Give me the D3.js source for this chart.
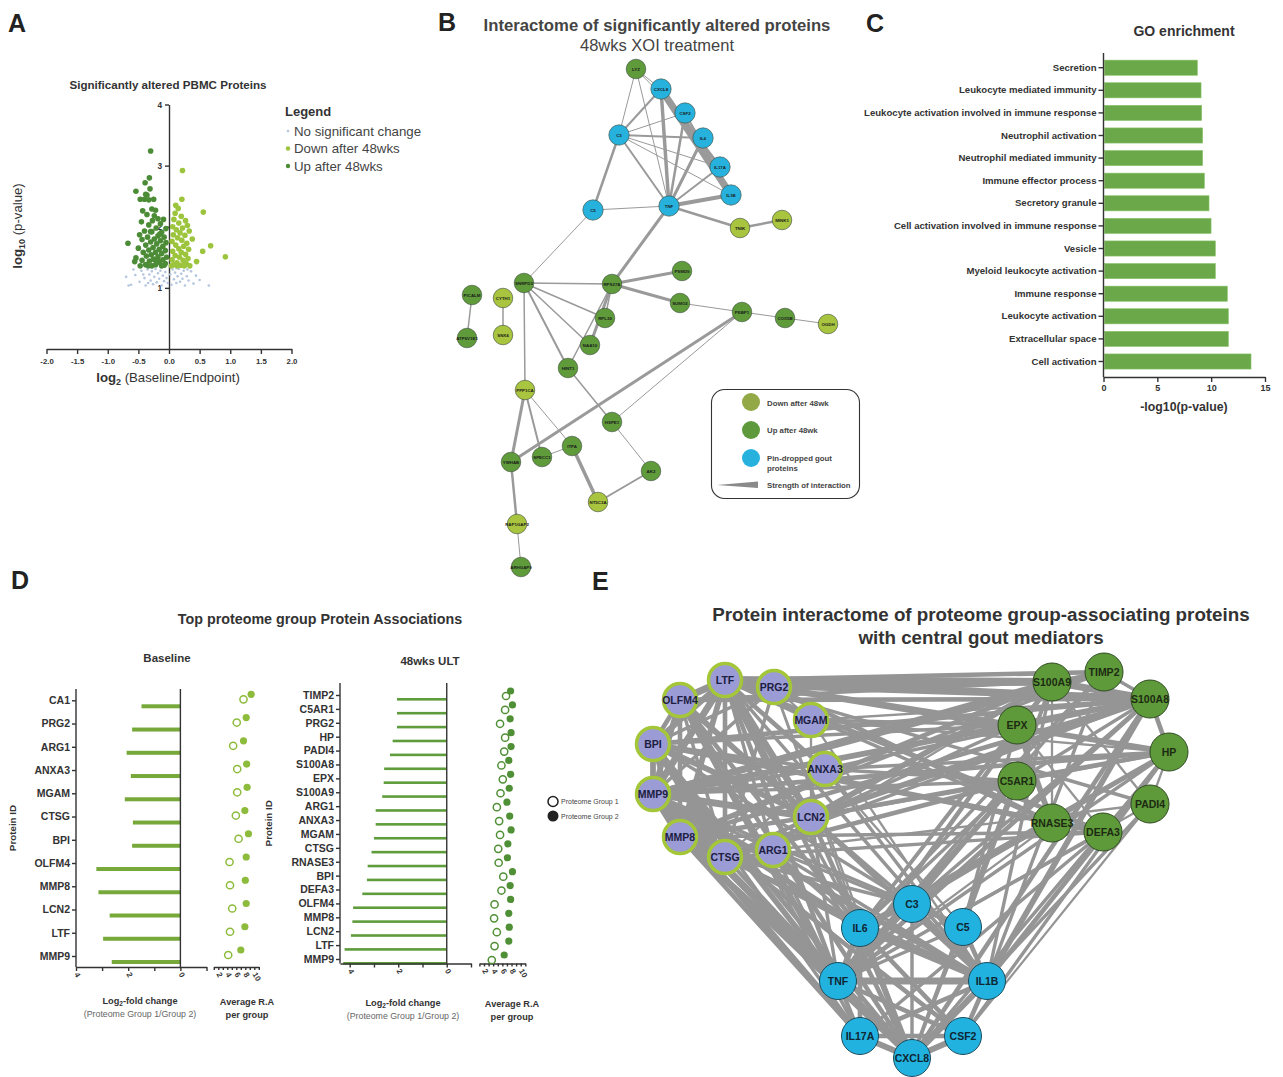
<!DOCTYPE html>
<html>
<head>
<meta charset="utf-8">
<script src="https://cdn.jsdelivr.net/npm/d3@7"></script>
<style>
  body { margin: 0; background: #fff; }
  svg { display: block; font-family: "Liberation Sans", Arial, sans-serif; }
  .ax path, .ax line { stroke: #333; stroke-width: 1.4; }
  .ax text { fill: #333; font-weight: bold; }
</style>
</head>
<body>
<svg id="fig" width="1283" height="1077"></svg>
<script>
// ---------- data: panel A (volcano) ----------
const upPts = [[-0.30,3.24],[-0.32,2.80],[-0.39,2.72],[-0.31,2.62],[-0.54,2.58],[-0.38,2.53],[-0.47,2.45],[-0.40,2.45],[-0.33,2.44],[-0.25,2.45],
  [-0.43,2.26],[-0.28,2.29],[-0.22,2.27],[-0.36,2.20],[-0.18,2.13],[-0.09,2.12],[-0.27,2.10],[-0.45,2.08],[-0.14,2.05],[-0.33,2.03],
  [-0.21,1.98],[-0.05,1.97],[-0.40,1.93],[-0.28,1.92],[-0.12,1.91],[-0.48,1.87],[-0.18,1.85],[-0.35,1.83],[-0.08,1.83],[-0.24,1.80],
  [-0.44,1.79],[-0.14,1.77],[-0.30,1.75],[-0.67,1.73],[-0.05,1.74],[-0.20,1.72],[-0.38,1.70],[-0.10,1.68],[-0.26,1.66],[-0.50,1.65],
  [-0.16,1.63],[-0.33,1.62],[-0.06,1.61],[-0.42,1.58],[-0.22,1.58],[-0.12,1.56],[-0.29,1.54],[-0.37,1.52],[-0.18,1.51],[-0.04,1.50],
  [-0.54,1.49],[-0.25,1.47],[-0.10,1.46],[-0.44,1.45],[-0.32,1.44],[-0.56,1.43],[-0.16,1.42],[-0.06,1.40],[-0.38,1.38],[-0.22,1.38],
  [-0.28,1.36],[-0.12,1.36],[-0.47,1.36],[-0.34,1.36],[-0.08,1.37],[-0.19,1.45],[-0.30,1.92],[-0.24,2.18],[-0.15,1.88],[-0.36,2.52]];
const downPts = [[0.22,2.92],[0.21,2.45],[0.11,2.35],[0.15,2.30],[0.56,2.24],[0.10,2.22],[0.20,2.17],[0.08,2.12],[0.27,2.10],[0.16,2.06],
  [0.30,2.02],[0.06,2.00],[0.22,1.98],[0.12,1.95],[0.33,1.93],[0.18,1.90],[0.07,1.87],[0.26,1.86],[0.14,1.82],[0.38,1.80],
  [0.21,1.78],[0.05,1.76],[0.29,1.73],[0.68,1.69],[0.11,1.70],[0.24,1.68],[0.16,1.64],[0.32,1.63],[0.06,1.60],[0.55,1.60],
  [0.20,1.58],[0.27,1.55],[0.10,1.53],[0.92,1.51],[0.17,1.50],[0.31,1.48],[0.05,1.46],[0.23,1.45],[0.45,1.43],[0.13,1.41],
  [0.28,1.40],[0.08,1.38],[0.19,1.37],[0.34,1.36],[0.04,1.36],[0.25,1.36],[0.14,1.36]];
const nsPts = [[-0.70,1.18],[-0.62,1.05],[-0.55,1.21],[-0.48,1.10],[-0.45,1.28],[-0.40,1.16],[-0.38,1.04],[-0.35,1.30],[-0.32,1.22],[-0.30,1.12],
  [-0.28,1.27],[-0.26,1.06],[-0.24,1.18],[-0.22,1.31],[-0.20,1.09],[-0.18,1.24],[-0.16,1.15],[-0.14,1.28],[-0.12,1.04],[-0.10,1.20],
  [-0.08,1.11],[-0.06,1.26],[-0.04,1.16],[-0.02,1.08],[0.02,1.22],[0.04,1.05],[0.06,1.30],[0.08,1.14],[0.10,1.25],[0.12,1.08],
  [0.14,1.19],[0.16,1.31],[0.18,1.10],[0.20,1.23],[0.22,1.15],[0.24,1.28],[0.26,1.04],[0.29,1.19],[0.32,1.12],[0.36,1.27],
  [0.40,1.07],[0.44,1.20],[0.50,1.13],[0.65,1.04],[-0.58,1.30],[-0.42,1.22],[0.30,1.30],[-0.34,1.08],[0.12,1.32],[-0.66,1.04]];
const volcanoXTicks = [-2,-1.5,-1,-0.5,0,0.5,1,1.5,2];
const volcanoYTicks = [1,2,3,4];

// ---------- data: panel B (network, layout units) ----------
const bNames = ['LYZ','CXCL8','CSF2','C3','IL6','IL17A','IL1B','TNF','C5','TNIK','MINK1','PSMD9','RPS27A','SNRPD3','PICALM','CYTH1','SUMO2',
  'PEBP1','COX5B','OGDH','RPL30','ATP6V1E1','SNX4','NAA10','HINT1','PPP1CA','HSPE1','ITPA','SPECC1','YWHAB','AK2','NT5C3A','RAP1GAP2','ARHGAP9'];
const bGroup = ['up','pin','pin','pin','pin','pin','pin','pin','pin','down','down','up','up','up','up','down','up',
  'up','up','down','up','up','down','up','up','down','up','up','up','up','up','down','down','up'];
const bX = [196,221,245,179,263,280,291,229,153,300,342,242,172,84,32,63,240,302,345,388,165,27,63,150,128,85,172,132,102,71,211,158,77,81];
const bY = [69,89,113,135,138,167,195,206,210,228,220,271,284,283,295,298,303,312,318,324,318,338,335,345,368,390,422,446,457,462,471,502,524,567];
const bEdges = ['LYZ CXCL8 1','LYZ C3 1','LYZ TNF 1','LYZ IL6 1','CXCL8 IL1B 7','CXCL8 IL17A 3','CXCL8 C3 2','CXCL8 TNF 3.5','CSF2 TNF 2.5',
  'C3 CSF2 1','C3 IL6 2','C3 IL17A 1','C3 IL1B 1','C3 TNF 2','C3 C5 2.5','IL6 TNF 3','IL17A TNF 2','IL1B TNF 4','CSF2 IL1B 2','C5 TNF 1',
  'TNF TNIK 2.5','TNIK MINK1 2.5','TNF RPS27A 3','C5 SNRPD3 1','RPS27A PSMD9 3','RPS27A SNRPD3 1.5','RPS27A SUMO2 3','RPS27A RPL30 1.5',
  'RPS27A NAA10 3','RPS27A HINT1 1.5','SUMO2 PEBP1 1','PEBP1 COX5B 1','COX5B OGDH 1','SNRPD3 RPL30 1.5','SNRPD3 NAA10 1.5','SNRPD3 HINT1 2',
  'SNRPD3 PPP1CA 1.5','PICALM ATP6V1E1 1.5','CYTH1 SNX4 1.5','PEBP1 YWHAB 3','PEBP1 HSPE1 1','HINT1 HSPE1 1.5','HSPE1 AK2 1','AK2 NT5C3A 2',
  'ITPA NT5C3A 3.5','PPP1CA YWHAB 3','PPP1CA SPECC1 2','PPP1CA ITPA 1','SPECC1 ITPA 1','YWHAB RAP1GAP2 2.5','RAP1GAP2 ARHGAP9 1'];
const bLegend = ['Down after 48wk','Up after 48wk','Pin-dropped gout|proteins','Strength of interaction'];

// ---------- data: panel C (GO enrichment) ----------
const goTerms = ['Secretion','Leukocyte mediated immunity','Leukocyte activation involved in immune response','Neutrophil activation',
  'Neutrophil mediated immunity','Immune effector process','Secretory granule','Cell activation involved in immune response','Vesicle',
  'Myeloid leukocyte activation','Immune response','Leukocyte activation','Extracellular space','Cell activation'];
const goValues = [8.72,9.06,9.12,9.21,9.21,9.37,9.80,9.99,10.39,10.39,11.5,11.6,11.6,13.7];
const goTicks = [0,5,10,15];

// ---------- data: panel D (lollipops) ----------
const baseProteins = ['CA1','PRG2','ARG1','ANXA3','MGAM','CTSG','BPI','OLFM4','MMP8','LCN2','LTF','MMP9'];
const baseFC = [1.49,1.85,2.06,1.90,2.13,1.82,1.85,3.22,3.14,2.71,2.96,2.63];
const baseG1 = [7.6,6.1,5.3,6.2,6.2,5.9,6.5,4.5,4.6,5.1,4.6,4.2];
const baseG2 = [9.3,8.2,7.6,8.3,8.4,7.9,8.7,8.2,8.0,8.2,7.9,7.0];
const ultProteins = ['TIMP2','C5AR1','PRG2','HP','PADI4','S100A8','EPX','S100A9','ARG1','ANXA3','MGAM','CTSG','RNASE3','BPI','DEFA3',
  'OLFM4','MMP8','LCN2','LTF','MMP9'];
const ultFC = [2.05,2.05,2.05,2.23,2.34,2.58,2.60,2.66,2.93,2.93,3.0,3.10,3.26,3.29,3.48,3.86,3.89,3.95,4.21,4.27];
const ultG1 = [6.8,6.6,5.5,6.6,6.4,5.8,6.1,5.6,4.8,5.3,5.5,5.1,5.2,6.2,5.8,4.3,4.2,4.8,4.3,3.7];
const ultG2 = [7.8,8.2,7.7,7.9,7.9,7.4,7.8,7.5,7.0,7.6,7.9,7.2,7.1,8.2,7.7,7.8,7.4,7.5,7.4,6.4];
const fcTicks = [4,3,2,1,0,-1];
const raTicks = [1,2,3,4,5,6,7,8,9,10,11];

// ---------- data: panel E (network, layout units) ----------
const eNames = ['LTF','PRG2','OLFM4','MGAM','BPI','ANXA3','MMP9','LCN2','MMP8','ARG1','CTSG',
  'S100A9','TIMP2','S100A8','EPX','HP','C5AR1','PADI4','RNASE3','DEFA3',
  'C3','IL6','C5','TNF','IL1B','IL17A','CSF2','CXCL8'];
const eGroup = ['p','p','p','p','p','p','p','p','p','p','p','g','g','g','g','g','g','g','g','g','b','b','b','b','b','b','b','b'];
const eX = [185,234,140,271,113,285,113,271,140,233,185,512,564,610,477,629,477,610,512,563,372,320,423,298,447,320,423,372];
const eY = [80,87,100,120,144,169,194,217,237,250,257,82,72,99,125,152,181,204,223,232,304,328,327,381,381,436,436,458];
const eEdges = [
  'LTF OLFM4 6','LTF PRG2 4','LTF BPI 5','LTF MMP9 6','LTF MMP8 5','LTF LCN2 6','LTF CTSG 4','LTF MGAM 3','LTF ANXA3 4','LTF ARG1 3',
  'OLFM4 BPI 4','OLFM4 MMP9 5','OLFM4 MMP8 4','OLFM4 LCN2 5','OLFM4 CTSG 3','BPI MMP9 5','BPI MMP8 4','BPI LCN2 5','BPI CTSG 5','BPI ANXA3 3',
  'MMP9 MMP8 6','MMP9 LCN2 6','MMP9 CTSG 4','MMP9 ARG1 3','MMP9 ANXA3 3','MMP8 LCN2 4','MMP8 CTSG 4','MMP8 ARG1 3','LCN2 CTSG 3','LCN2 ARG1 3',
  'PRG2 MGAM 2','PRG2 BPI 3','PRG2 CTSG 3','PRG2 MMP9 3','ANXA3 CTSG 2','MGAM LCN2 2',
  'LTF S100A9 7','LTF S100A8 6','LTF TIMP2 4','LTF HP 5','LTF EPX 3','LTF PADI4 3','LTF DEFA3 4','LTF RNASE3 3','PRG2 S100A9 5','PRG2 EPX 4',
  'PRG2 RNASE3 4','PRG2 S100A8 4','OLFM4 S100A8 4','OLFM4 S100A9 3','BPI S100A8 4','BPI DEFA3 5','BPI RNASE3 3','MMP9 S100A9 5','MMP9 S100A8 5',
  'MMP9 TIMP2 6','MMP9 HP 4','MMP9 C5AR1 3','MMP8 S100A8 4','MMP8 S100A9 4','MMP8 TIMP2 3','MMP8 DEFA3 3','LCN2 S100A9 5','LCN2 S100A8 5',
  'LCN2 HP 4','LCN2 C5AR1 3','CTSG C5AR1 4','CTSG DEFA3 3','CTSG S100A8 3','ARG1 S100A9 2','ARG1 PADI4 2','MGAM S100A8 2','MGAM EPX 3',
  'ANXA3 S100A8 3','ANXA3 HP 3','ANXA3 C5AR1 3','MGAM HP 2','CTSG EPX 3','BPI EPX 3',
  'S100A9 S100A8 6','S100A9 TIMP2 3','S100A8 HP 4','S100A8 TIMP2 3','EPX RNASE3 5','EPX S100A8 3','HP PADI4 2','C5AR1 S100A8 3','C5AR1 S100A9 3',
  'DEFA3 RNASE3 3','S100A9 RNASE3 2','EPX DEFA3 2','HP C5AR1 3','PADI4 S100A9 2',
  'OLFM4 TNF 5','OLFM4 IL6 4','OLFM4 CXCL8 4','BPI TNF 5','BPI IL17A 3','BPI CXCL8 4','BPI C3 3','MMP9 TNF 6','MMP9 IL17A 5','MMP9 CXCL8 6',
  'MMP9 IL6 5','MMP9 IL1B 5','MMP9 C3 3','MMP9 CSF2 4','MMP8 TNF 4','MMP8 IL1B 4','MMP8 IL17A 4','MMP8 CXCL8 5','LTF TNF 4','LTF IL6 3',
  'LTF IL1B 3','LTF CXCL8 4','LCN2 IL6 4','LCN2 C3 3','LCN2 IL1B 4','LCN2 TNF 3','CTSG IL6 3','CTSG C3 3','CTSG CXCL8 3','CTSG TNF 3',
  'ARG1 IL6 3','ARG1 C5 3','ARG1 IL1B 3','ARG1 TNF 3','ANXA3 C5 2','ANXA3 IL1B 3','MGAM IL1B 2','PRG2 IL6 2','PRG2 CXCL8 2','OLFM4 IL17A 3',
  'S100A8 IL1B 5','S100A8 TNF 4','S100A8 C3 3','S100A8 CXCL8 4','S100A9 TNF 4','S100A9 IL1B 3','S100A9 IL6 3','S100A9 CXCL8 3','TIMP2 IL6 3',
  'TIMP2 TNF 3','TIMP2 IL1B 3','HP IL6 4','HP IL1B 4','HP TNF 3','HP CSF2 3','HP C3 3','EPX IL6 3','EPX C5 3','C5AR1 C5 4','C5AR1 C3 4',
  'C5AR1 IL6 3','C5AR1 TNF 3','PADI4 TNF 2','PADI4 CSF2 2','DEFA3 IL17A 3','DEFA3 CXCL8 3','DEFA3 TNF 3','RNASE3 IL6 3','RNASE3 TNF 2',
  'HP CXCL8 2','PADI4 CXCL8 3',
  'C3 C5 5','C3 IL6 4','C3 TNF 4','C3 IL1B 4','C3 CXCL8 3','IL6 TNF 5','IL6 IL1B 5','IL6 CXCL8 5','IL6 IL17A 4','IL6 CSF2 4','C5 IL1B 4',
  'C5 TNF 3','C5 CXCL8 3','TNF IL1B 6','TNF IL17A 4','TNF CXCL8 5','TNF CSF2 4','IL1B CXCL8 5','IL1B CSF2 4','IL1B IL17A 4','IL17A CXCL8 5',
  'IL17A CSF2 4','CSF2 CXCL8 5'];

// ---------- colours ----------
const cUp = '#4c8c36', cDown = '#9cc43c', cNS = '#b3c6de';
const cPin = '#27b2de', cNetUp = '#5f9b3b', cNetDown = '#a9c43e';

const svg = d3.select('#fig');
const txt = (g, x, y, s, size, opts = {}) => g.append('text').attr('x', x).attr('y', y).text(s)
  .attr('font-size', size).attr('font-weight', opts.bold ? 'bold' : null)
  .attr('text-anchor', opts.anchor || 'start').attr('fill', opts.fill || '#333');

// panel letters
[['A',8,32],['B',438,31],['C',866,32],['D',11,589],['E',592,590]].forEach(d =>
  txt(svg, d[1], d[2], d[0], 25, {bold: true, fill: '#222'}));

// ================= Panel A =================
{
  const g = svg.append('g');
  const x = d3.scaleLinear().domain([-2, 2]).range([46.5, 291.5]);
  const y = d3.scaleLinear().domain([0, 4]).range([349, 104.5]);
  txt(g, 168, 89, 'Significantly altered PBMC Proteins', 11.6, {bold: true, anchor: 'middle'});

  g.append('g').attr('class', 'ax').attr('transform', 'translate(0,349)')
    .call(d3.axisBottom(x).tickValues(volcanoXTicks).tickFormat(d => d.toFixed(1)).tickSize(5).tickSizeOuter(0))
    .selectAll('text').attr('font-size', 7.8).attr('dy', '0.9em');
  g.append('g').attr('class', 'ax').attr('transform', `translate(${x(0)},0)`)
    .call(d3.axisLeft(y).tickValues(volcanoYTicks).tickFormat(d3.format('d')).tickSize(4).tickSizeOuter(0))
    .selectAll('text').attr('font-size', 8.3);

  g.append('g').selectAll('circle').data(nsPts).join('circle')
    .attr('cx', d => x(d[0])).attr('cy', d => y(d[1])).attr('r', 1.3).attr('fill', cNS);
  g.append('g').selectAll('circle').data(downPts).join('circle')
    .attr('cx', d => x(d[0])).attr('cy', d => y(d[1])).attr('r', 2.8).attr('fill', cDown);
  g.append('g').selectAll('circle').data(upPts).join('circle')
    .attr('cx', d => x(d[0])).attr('cy', d => y(d[1])).attr('r', 2.8).attr('fill', cUp);

  const xl = g.append('text').attr('x', 168).attr('y', 382).attr('text-anchor', 'middle').attr('font-size', 13.2).attr('fill', '#333');
  xl.append('tspan').text('log').attr('font-weight', 'bold');
  xl.append('tspan').text('2').attr('font-weight', 'bold').attr('font-size', 9).attr('dy', 3);
  xl.append('tspan').text(' (Baseline/Endpoint)').attr('dy', -3);
  const yl = g.append('text').attr('transform', 'translate(22,226) rotate(-90)').attr('text-anchor', 'middle').attr('font-size', 13.2).attr('fill', '#333');
  yl.append('tspan').text('log').attr('font-weight', 'bold');
  yl.append('tspan').text('10').attr('font-weight', 'bold').attr('font-size', 9).attr('dy', 3);
  yl.append('tspan').text(' (p-value)').attr('dy', -3);

  txt(g, 285, 116, 'Legend', 13, {bold: true});
  [['No significant change', cNS, 1.3], ['Down after 48wks', cDown, 2.2], ['Up after 48wks', cUp, 2.2]].forEach((d, i) => {
    g.append('circle').attr('cx', 288).attr('cy', 131 + i * 17.5).attr('r', d[2]).attr('fill', d[1]);
    txt(g, 294, 135.5 + i * 17.5, d[0], 13.3, {fill: '#444'});
  });
}

// ================= Panel B =================
{
  const g = svg.append('g');
  const sx = d3.scaleLinear().domain([0, 440]).range([440, 880]);
  const sy = d3.scaleLinear().domain([0, 600]).range([0, 600]);
  txt(g, 657, 31, 'Interactome of significantly altered proteins', 16.7, {bold: true, anchor: 'middle', fill: '#444'});
  txt(g, 657, 51, '48wks XOI treatment', 16.5, {anchor: 'middle', fill: '#444'});
  const idx = new Map(bNames.map((n, i) => [n, i]));
  const edges = bEdges.map(s => { const p = s.split(' '); return {a: idx.get(p[0]), b: idx.get(p[1]), w: +p[2]}; });
  g.append('g').selectAll('line').data(edges).join('line')
    .attr('x1', d => sx(bX[d.a])).attr('y1', d => sy(bY[d.a])).attr('x2', d => sx(bX[d.b])).attr('y2', d => sy(bY[d.b]))
    .attr('stroke', '#9a9a9a').attr('stroke-width', d => d.w).attr('stroke-linecap', 'round');
  const fillOf = {up: cNetUp, down: cNetDown, pin: cPin};
  const nodes = g.append('g').selectAll('g').data(bNames).join('g')
    .attr('transform', (d, i) => `translate(${sx(bX[i])},${sy(bY[i])})`);
  nodes.append('circle').attr('r', (d, i) => bGroup[i] === 'pin' ? 10.2 : 9.8)
    .attr('fill', (d, i) => fillOf[bGroup[i]]).attr('stroke', '#3a4a3a').attr('stroke-width', 0.6);
  nodes.append('text').text(d => d).attr('text-anchor', 'middle').attr('dy', '0.35em')
    .attr('font-size', 4.4).attr('font-weight', 'bold').attr('fill', '#1a1a1a');

  // legend
  g.append('rect').attr('x', 711.5).attr('y', 389.5).attr('width', 148).attr('height', 109).attr('rx', 13)
    .attr('fill', 'none').attr('stroke', '#333').attr('stroke-width', 1.1);
  [['#93a846', 402], ['#5e9a3c', 430], [cPin, 458]].forEach(d =>
    g.append('circle').attr('cx', 751).attr('cy', d[1]).attr('r', 9).attr('fill', d[0]));
  txt(g, 767, 406, bLegend[0], 7.8, {bold: true, fill: '#444'});
  txt(g, 767, 433, bLegend[1], 7.8, {bold: true, fill: '#444'});
  txt(g, 767, 461, bLegend[2].split('|')[0], 7.8, {bold: true, fill: '#444'});
  txt(g, 767, 471, bLegend[2].split('|')[1], 7.8, {bold: true, fill: '#444'});
  g.append('path').attr('d', 'M717,485 L758,481.5 L758,488 Z').attr('fill', '#8a8a8a');
  txt(g, 767, 488, bLegend[3], 7.8, {bold: true, fill: '#444'});
}

// ================= Panel C =================
{
  const g = svg.append('g');
  const x = d3.scaleLinear().domain([0, 15]).range([1103.5, 1265]);
  const y = d3.scaleBand().domain(goTerms).range([56.4, 372.8]).paddingInner(0.33).paddingOuter(0.165);
  txt(g, 1184, 36, 'GO enrichment', 14, {bold: true, anchor: 'middle'});
  g.append('g').selectAll('rect').data(goTerms).join('rect')
    .attr('x', x(0) + 1).attr('y', d => y(d)).attr('height', y.bandwidth())
    .attr('width', (d, i) => x(goValues[i]) - x(0) - 1).attr('fill', '#6aa84a').attr('stroke', '#8bc46a').attr('stroke-width', 0.6);
  const ya = g.append('g').attr('class', 'ax').attr('transform', `translate(${x(0)},0)`)
    .call(d3.axisLeft(y).tickSize(5).tickSizeOuter(0));
  ya.select('.domain').attr('d', 'M0,53V377');
  ya.selectAll('text').attr('font-size', 9.6).attr('x', -7);
  g.append('g').attr('class', 'ax').attr('transform', 'translate(0,377)')
    .call(d3.axisBottom(x).tickValues(goTicks).tickSize(5).tickSizeOuter(0))
    .selectAll('text').attr('font-size', 9);
  txt(g, 1184, 411, '-log10(p-value)', 12.3, {bold: true, anchor: 'middle'});
}

// ================= Panel D =================
function lollipop(opt) {
  const g = svg.append('g');
  const y = d3.scalePoint().domain(opt.proteins).range(opt.yRange);
  const x = d3.scaleLinear().domain(opt.fcDomain).range(opt.fcRange);
  const r = d3.scaleLinear().domain([1, 11]).range(opt.raRange);
  const axY = opt.axisY;
  txt(g, opt.titleX, opt.titleY, opt.title, 11.5, {bold: true, anchor: 'middle'});

  g.append('g').selectAll('rect').data(opt.proteins).join('rect')
    .attr('x', (d, i) => x(opt.fc[i])).attr('y', d => y(d) + opt.barOff - opt.barH / 2)
    .attr('width', (d, i) => x(0) - x(opt.fc[i])).attr('height', opt.barH).attr('fill', opt.barColor);

  const yA = g.append('g').attr('class', 'ax').attr('transform', `translate(${opt.fcRange[0]},0)`)
    .call(d3.axisLeft(y).tickSize(4).tickSizeOuter(0));
  yA.select('.domain').attr('d', `M0,${opt.yTop}V${axY}`);
  yA.selectAll('text').attr('font-size', opt.labSize).attr('x', -6);
  g.append('line').attr('x1', x(0)).attr('x2', x(0)).attr('y1', opt.yTop).attr('y2', axY).attr('stroke', '#333').attr('stroke-width', 1.4);

  const rot = sel => sel.selectAll('text').attr('font-size', 7.8).attr('transform', 'rotate(60)')
    .attr('x', 5).attr('y', 3).attr('dy', '0.35em').style('text-anchor', 'start');
  g.append('g').attr('class', 'ax').attr('transform', `translate(0,${axY})`)
    .call(d3.axisBottom(x).tickValues(fcTicks).tickSize(4).tickSizeOuter(0)
      .tickFormat(d => (d >= 0 && d % 2 === 0) ? d : '')).call(rot);
  g.append('g').attr('class', 'ax').attr('transform', `translate(0,${axY})`)
    .call(d3.axisBottom(r).tickValues(raTicks).tickSize(3).tickSizeOuter(0)
      .tickFormat(d => d % 2 === 0 ? d : '')).call(rot);

  g.append('g').selectAll('circle').data(opt.proteins).join('circle')
    .attr('cx', (d, i) => r(opt.g1[i])).attr('cy', d => y(d) + opt.openOff).attr('r', opt.dotR)
    .attr('fill', '#fff').attr('stroke', opt.dotColor).attr('stroke-width', 1.5);
  g.append('g').selectAll('circle').data(opt.proteins).join('circle')
    .attr('cx', (d, i) => r(opt.g2[i])).attr('cy', d => y(d) + opt.fillOff).attr('r', opt.dotR)
    .attr('fill', opt.dotColor);

  const l1 = g.append('text').attr('x', opt.fcLabX).attr('y', opt.labY).attr('text-anchor', 'middle').attr('font-size', 9.2)
    .attr('font-weight', 'bold').attr('fill', '#333');
  l1.append('tspan').text('Log');
  l1.append('tspan').text('2').attr('font-size', 6.5).attr('dy', 2);
  l1.append('tspan').text('-fold change').attr('dy', -2);
  txt(g, opt.fcLabX, opt.labY + 13, '(Proteome Group 1/Group 2)', 8.8, {anchor: 'middle', fill: '#666'});
  txt(g, opt.raLabX, opt.labY + 1, 'Average R.A', 9.2, {bold: true, anchor: 'middle'});
  txt(g, opt.raLabX, opt.labY + 14, 'per group', 9.2, {bold: true, anchor: 'middle'});
  g.append('text').attr('transform', `translate(${opt.pidX},${(opt.yTop + axY) / 2}) rotate(-90)`)
    .attr('text-anchor', 'middle').attr('font-size', 9.8).attr('font-weight', 'bold').attr('fill', '#333').text('Protein ID');
}
txt(svg, 320, 624, 'Top proteome group Protein Associations', 14.3, {bold: true, anchor: 'middle'});
lollipop({proteins: baseProteins, fc: baseFC, g1: baseG1, g2: baseG2, yRange: [700.3, 956], fcDomain: [4, -1], fcRange: [76, 206.5],
  raRange: [213.8, 258.8], axisY: 967, yTop: 689, barOff: 6, barH: 4, barColor: '#76a83a', dotColor: '#8dbb3c', dotR: 3.6,
  openOff: -1, fillOff: -6, title: 'Baseline', titleX: 167, titleY: 662, pidX: 16, labSize: 10.5,
  fcLabX: 140, raLabX: 247, labY: 1004});
lollipop({proteins: ultProteins, fc: ultFC, g1: ultG1, g2: ultG2, yRange: [695, 959], fcDomain: [4.4, -1], fcRange: [340, 471],
  raRange: [479.4, 525.3], axisY: 963.5, yTop: 683, barOff: 4.3, barH: 2.6, barColor: '#5e9c3c', dotColor: '#4f8f35', dotR: 3.6,
  openOff: 1, fillOff: -4, title: '48wks ULT', titleX: 430, titleY: 665, pidX: 272, labSize: 10.5,
  fcLabX: 403, raLabX: 512, labY: 1006});

// group legend between D and E
svg.append('circle').attr('cx', 553).attr('cy', 801.5).attr('r', 5).attr('fill', '#fff').attr('stroke', '#222').attr('stroke-width', 1.5);
svg.append('circle').attr('cx', 553).attr('cy', 816).attr('r', 5.5).attr('fill', '#222');
txt(svg, 561, 804, 'Proteome Group 1', 7, {fill: '#444'});
txt(svg, 561, 818.5, 'Proteome Group 2', 7, {fill: '#444'});

// ================= Panel E =================
{
  const g = svg.append('g');
  const sx = d3.scaleLinear().domain([0, 700]).range([540, 1240]);
  const sy = d3.scaleLinear().domain([0, 480]).range([600, 1080]);
  txt(g, 981, 621, 'Protein interactome of proteome group-associating proteins', 18.8, {bold: true, anchor: 'middle'});
  txt(g, 981, 644, 'with central gout mediators', 18.8, {bold: true, anchor: 'middle'});
  const idx = new Map(eNames.map((n, i) => [n, i]));
  const edges = eEdges.map(s => { const p = s.split(' '); return {a: idx.get(p[0]), b: idx.get(p[1]), w: +p[2]}; });
  g.append('g').selectAll('line').data(edges).join('line')
    .attr('x1', d => sx(eX[d.a])).attr('y1', d => sy(eY[d.a])).attr('x2', d => sx(eX[d.b])).attr('y2', d => sy(eY[d.b]))
    .attr('stroke', '#959595').attr('stroke-width', d => d.w * 1.15);
  const style = {
    p: {r: 16.5, fill: '#9b9bd6', stroke: '#a4c639', sw: 3.5, lab: '#1c2040'},
    g: {r: 19, fill: '#5e9a3a', stroke: '#2f4a22', sw: 1, lab: '#1d2b12'},
    b: {r: 18.5, fill: '#22b2df', stroke: '#1c4d5e', sw: 1, lab: '#0f2633'}
  };
  const nodes = g.append('g').selectAll('g').data(eNames).join('g')
    .attr('transform', (d, i) => `translate(${sx(eX[i])},${sy(eY[i])})`);
  nodes.append('circle').attr('r', (d, i) => style[eGroup[i]].r).attr('fill', (d, i) => style[eGroup[i]].fill)
    .attr('stroke', (d, i) => style[eGroup[i]].stroke).attr('stroke-width', (d, i) => style[eGroup[i]].sw);
  nodes.append('text').text(d => d).attr('text-anchor', 'middle').attr('dy', '0.36em')
    .attr('font-size', 10.5).attr('font-weight', 'bold').attr('fill', (d, i) => style[eGroup[i]].lab);
}
</script>
</body>
</html>
